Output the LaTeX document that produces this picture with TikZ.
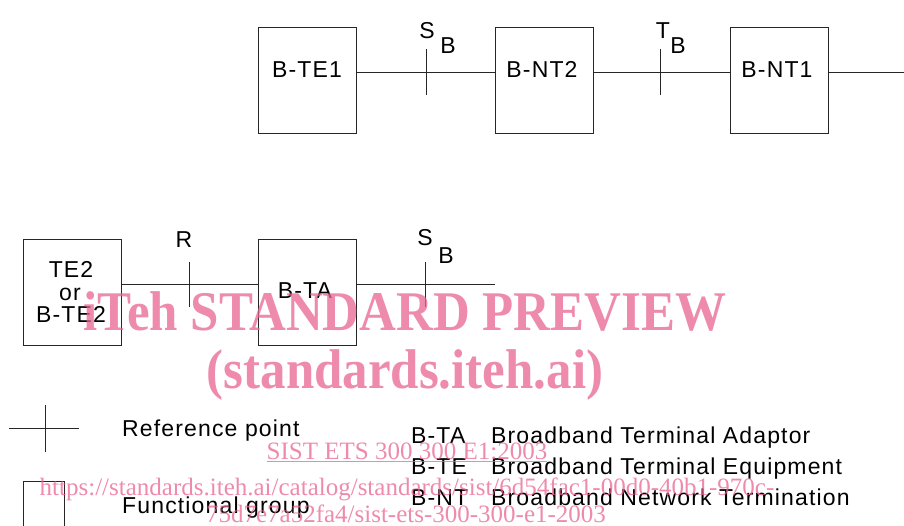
\documentclass[tikz,border=0pt]{standalone}
\usepackage{fontspec}
\usepackage{graphicx}
\setmainfont{Liberation Sans}[LetterSpace=5]
\newfontfamily\wmfont{Liberation Serif}
\definecolor{wmpink}{RGB}{232,100,145}
\begin{document}
\begin{tikzpicture}[x=1pt,y=-1pt,
  fgbox/.style={draw=black!85,line width=0.8pt,minimum width=98pt,minimum height=106pt,inner sep=0pt},
  lbl/.style={font=\fontsize{23}{23}\selectfont,inner sep=0pt,anchor=base},
  conn/.style={draw=black!85,line width=0.8pt},
  wmbig/.style={text=wmpink,text opacity=0.75,inner sep=0pt,anchor=base,font=\wmfont\bfseries\fontsize{56}{56}\selectfont},
  wmsmall/.style={text=wmpink,text opacity=0.75,inner sep=0pt,anchor=base,font=\wmfont\fontsize{25}{25}\selectfont}]
\useasboundingbox (0,0) rectangle (904,525);
% top row
\node[fgbox] (bte1) at (307,80) {};
\node[fgbox] (bnt2) at (544.5,80) {};
\node[fgbox] (bnt1) at (779.5,80) {};
\node[lbl] (tbte1) at (307,77) {B-TE1};
\node[lbl] (tbnt2) at (542,77) {B-NT2};
\node[lbl] (tbnt1) at (777,77) {B-NT1};
\coordinate (netend) at (904,72);
\draw[conn] ([yshift=8pt]bte1.east) -- ([yshift=8pt]bnt2.west);
\draw[conn] ([yshift=8pt]bnt2.east) -- ([yshift=8pt]bnt1.west);
\draw[conn] ([yshift=8pt]bnt1.east) -- (netend);
\coordinate (sb1a) at (426,49); \coordinate (sb1b) at (426,95);
\draw[conn] (sb1a) -- (sb1b);
\coordinate (tba) at (660,49); \coordinate (tbb) at (660,95);
\draw[conn] (tba) -- (tbb);
\node[lbl] (s1) at (427,38) {S};
\node[lbl] (s1b) at (448,53) {B};
\node[lbl] (t1) at (663,38) {T};
\node[lbl] (t1b) at (678,53) {B};
% bottom row
\node[fgbox] (te2) at (72,292) {};
\node[fgbox] (bta) at (307,292) {};
\node[lbl] (tte2a) at (71,277) {TE2};
\node[lbl] (tte2b) at (70,300) {or};
\node[lbl] (tte2c) at (71,322) {B-TE2};
\node[lbl] (tbta) at (305,298) {B-TA};
\coordinate (taend) at (495,284);
\draw[conn] ([yshift=8pt]te2.east) -- ([yshift=8pt]bta.west);
\draw[conn] ([yshift=8pt]bta.east) -- (taend);
\coordinate (ra) at (189,262); \coordinate (rb) at (189,307);
\draw[conn] (ra) -- (rb);
\coordinate (sb2a) at (425,262); \coordinate (sb2b) at (425,307);
\draw[conn] (sb2a) -- (sb2b);
\node[lbl] (r2) at (184,247) {R};
\node[lbl] (s2) at (425,245) {S};
\node[lbl] (s2b) at (446,263) {B};
% legend
\coordinate (cxa) at (9,428); \coordinate (cxb) at (79,428);
\coordinate (cya) at (45,405); \coordinate (cyb) at (45,452);
\draw[conn] (cxa) -- (cxb);
\draw[conn] (cya) -- (cyb);
\node[lbl,anchor=base west] (lrp) at (122,436) {Reference point};
\draw[conn] (23,530) -- (23,481) -- (64,481) -- (64,530);
\node[lbl,anchor=base west] (lfg) at (122,513) {Functional group};
\node[lbl,anchor=base west] (la1) at (411,443) {B-TA};
\node[lbl,anchor=base west] (la2) at (491,443) {Broadband Terminal Adaptor};
\node[lbl,anchor=base west] (lb1) at (411,474) {B-TE};
\node[lbl,anchor=base west] (lb2) at (491,474) {Broadband Terminal Equipment};
\node[lbl,anchor=base west] (lc1) at (411,505) {B-NT};
\node[lbl,anchor=base west] (lc2) at (491,505) {Broadband Network Termination};
% watermark
\node[wmbig] (wm1) at (405,330) {\scalebox{0.91}[1]{iTeh STANDARD PREVIEW}};
\node[wmbig] (wm2) at (405,388) {\scalebox{0.91}[1]{(standards.iteh.ai)}};
\node[wmsmall] (wm3) at (407,459) {SIST ETS 300 300 E1:2003};
\draw[wmpink,opacity=0.75,line width=1pt] (wm3.base west) ++(0,2.5) -- ([yshift=-2.5pt]wm3.base east);
\node[wmsmall] (wm4) at (407,495) {https://standards.iteh.ai/catalog/standards/sist/6d54fac1-00d0-40b1-970c-};
\node[wmsmall] (wm5) at (406,522) {75d7e7a52fa4/sist-ets-300-300-e1-2003};
\end{tikzpicture}
\end{document}
